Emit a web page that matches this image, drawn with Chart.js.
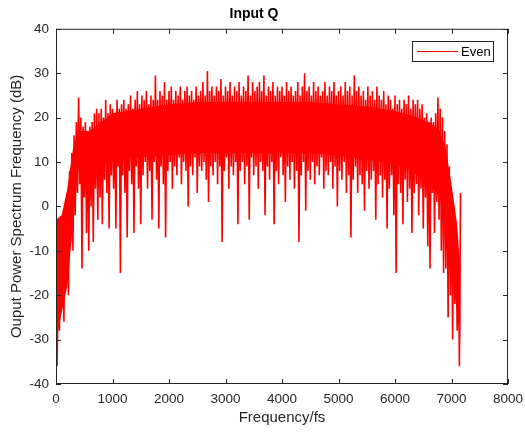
<!DOCTYPE html>
<html>
<head>
<meta charset="utf-8">
<script src="https://cdn.jsdelivr.net/npm/chart.js@4/dist/chart.umd.min.js"></script>
<style>
  html, body { margin: 0; padding: 0; background: #fff; }
  #wrap { width: 525px; height: 432px; }
</style>
</head>
<body>
<div id="wrap"><canvas id="psd"></canvas></div>
<script>
const seriesName = "Even";
const step = 40; // Hz between successive peak samples (dips sit half way)

// upper spikes, f = 0, 40, 80 ... 7160
const peaks = [
  3, -18, -12, -8, -2, 3, 8, 12, 16, 19,
  24.5, 20, 18, 19, 17, 18, 19, 21, 22, 21,
  22, 20, 24, 21, 23, 22, 21, 24, 22, 23,
  24, 22, 23, 25, 22, 24, 26, 23, 25, 24,
  26, 23, 25, 24, 29.5, 24, 26, 25, 28, 24,
  26, 27, 24, 26, 25, 27, 24, 26, 27, 25,
  26, 24, 27, 25, 26, 28, 25, 30.5, 26, 27,
  25, 27, 26, 28.7, 25, 27, 26, 28, 25, 27,
  26, 28, 25, 27, 26, 29.5, 25, 28, 26, 27,
  28, 26, 29.5, 25, 27, 26, 28, 25, 27, 26,
  27, 25, 28, 26, 27, 25, 26, 28, 25, 27,
  30, 26, 27, 25, 28, 26, 27, 25, 26, 28,
  25, 27, 26, 28, 25, 26, 27, 25, 28, 26,
  27, 25, 29.5, 26, 27, 25, 26, 24, 27, 25,
  26, 24, 27, 25, 24, 26, 23, 25, 24, 22,
  25, 23, 24, 22, 24, 23, 25, 22, 24, 23,
  24, 22, 23, 20, 21, 19, 20, 19, 21, 24.5,
  22, 20, 17, 14, 9, 3, 0, -4, -10, 3
];

// lower spikes, f = 20, 60, 100 ... 7140
const dips = [
  -36, -28, -22, -26, -12, -20, -8, -10, -2, 3,
  5, -14, 2, -6, -10, 0, -8, 4, -3, 2,
  -4, 6, 3, -5, 7, 4, -5, 9, -15, 7,
  3, -7, 8, 5, -6, 9, 4, -4, 7, 10,
  4, 8, -3, 10, 6, -5, 9, 5, -7, 8,
  10, 4, 9, 7, 11, 5, 10, 8, 0, 9,
  7, 11, 3, 9, 8, 10, 6, 1, 9, 7,
  10, 5, 9, -8, 8, 11, 4, 9, 7, 10,
  -4, 8, 10, 5, 9, -3, 11, 7, 9, 4,
  10, 8, -2, 9, 6, 10, -4, 8, 5, 11,
  7, 1, 9, 6, 10, 4, 8, -8, 7, 10,
  -1, 8, 6, 10, 5, 9, 7, 11, 4, 8,
  7, 10, 4, 9, 0, 8, 6, 10, 3, 7,
  -7, 6, 9, 3, 7, 5, -1, 8, 4, 6,
  8, -3, 5, 7, 2, 6, -5, 4, 7, -2,
  -15, 5, 3, -4, 6, 1, 4, -6, 3, 5,
  -2, 4, -5, 2, -9, -14, 3, -6, 1, -3,
  -10, -15, -14, -25, -20, -30, -22, -28, -36
];

// solid core of the trace (where the samples are too dense to tell apart)
const coreFreq = [0, 100, 200, 300, 400, 600, 800, 1000, 1500, 2000, 2500, 3000, 3500,
  4000, 4500, 5000, 5500, 6000, 6300, 6600, 6800, 6900, 7000, 7100, 7160];
const coreTop = [-3, -2, 4, 13, 17, 17, 19, 21, 22, 23, 23.5, 23.5, 23.5,
  23.5, 23.5, 23, 22.5, 21.5, 20.5, 19, 17, 13, 5, -4, -15];
const coreLow = [-30, -24, -18, -4, 9, 8, 9, 10.5, 11, 11.5, 12, 12, 12,
  12, 12, 11.5, 10.5, 9.5, 8, 5, 2, -4, -14, -24, -30];

const xTicks = [0, 1000, 2000, 3000, 4000, 5000, 6000, 7000, 8000];
const yTicks = [-40, -30, -20, -10, 0, 10, 20, 30, 40];

// interleave peaks and dips into one trace
const points = [];
peaks.forEach((p, i) => {
  points.push({ x: i * step, y: p });
  if (i < dips.length) points.push({ x: i * step + step / 2, y: dips[i] });
});

const axisColor = "#262626";
const lineRed = "#ff0000";
const fontFam = "'Liberation Sans', Arial, Helvetica, sans-serif";

// box around the axes plus inward tick marks, like the original figure
const boxPlugin = {
  id: "box",
  afterDraw(chart) {
    const { ctx, chartArea: a, scales } = chart;
    ctx.save();
    ctx.strokeStyle = axisColor;
    ctx.lineWidth = 1;
    ctx.strokeRect(a.left + 0.5, a.top + 0.5, a.right - a.left - 1, a.bottom - a.top - 1);
    ctx.beginPath();
    xTicks.forEach(t => {
      const x = Math.round(scales.x.getPixelForValue(t)) + 0.5;
      ctx.moveTo(x, a.bottom); ctx.lineTo(x, a.bottom - 5);
      ctx.moveTo(x, a.top); ctx.lineTo(x, a.top + 5);
    });
    yTicks.forEach(t => {
      const y = Math.round(scales.y.getPixelForValue(t)) + 0.5;
      ctx.moveTo(a.left, y); ctx.lineTo(a.left + 5, y);
      ctx.moveTo(a.right, y); ctx.lineTo(a.right - 5, y);
    });
    ctx.stroke();

    // legend box in the top right corner
    const bx = 412.5, by = 41.5, bw = 81, bh = 20;
    ctx.fillStyle = "#fff";
    ctx.fillRect(bx, by, bw, bh);
    ctx.strokeStyle = axisColor;
    ctx.strokeRect(bx, by, bw, bh);
    ctx.strokeStyle = lineRed;
    ctx.beginPath();
    ctx.moveTo(417, 51.5); ctx.lineTo(458, 51.5);
    ctx.stroke();
    ctx.fillStyle = "#000";
    ctx.font = "13px " + fontFam;
    ctx.textBaseline = "middle";
    ctx.fillText(seriesName, 461, 52);
    ctx.restore();
  }
};

new Chart(document.getElementById("psd"), {
  type: "line",
  data: {
    datasets: [
      {
        label: "core low",
        data: coreFreq.map((f, i) => ({ x: f, y: coreLow[i] })),
        borderWidth: 0,
        pointRadius: 0,
        fill: false
      },
      {
        label: "core top",
        data: coreFreq.map((f, i) => ({ x: f, y: coreTop[i] })),
        borderWidth: 0,
        pointRadius: 0,
        backgroundColor: lineRed,
        fill: "-1"
      },
      {
        label: seriesName,
        data: points,
        borderColor: lineRed,
        borderWidth: 1.6,
        pointRadius: 0,
        fill: false,
        tension: 0
      }
    ]
  },
  options: {
    responsive: true,
    maintainAspectRatio: false,
    animation: false,
    layout: { padding: { top: 2, right: 17, left: 0, bottom: 0 } },
    plugins: {
      legend: { display: false },
      tooltip: { enabled: false },
      title: {
        display: true,
        text: "Input Q",
        color: "#000",
        font: { family: fontFam, size: 14, weight: "bold" },
        padding: { top: 4, bottom: 6 }
      }
    },
    scales: {
      x: {
        type: "linear",
        min: 0, max: 8000,
        afterBuildTicks: s => { s.ticks = xTicks.map(v => ({ value: v })); },
        afterFit: s => { s.height = 48; s.paddingLeft = 0; s.paddingRight = 0; },
        grid: { display: false, drawTicks: false },
        border: { display: false },
        ticks: {
          color: axisColor, padding: 7, maxRotation: 0,
          font: { family: fontFam, size: 13.5 },
          callback: v => String(v)
        },
        title: {
          display: true,
          text: "Frequency/fs",
          color: axisColor,
          font: { family: fontFam, size: 15 },
          padding: { top: 0, bottom: 5 }
        }
      },
      y: {
        min: -40, max: 40,
        afterBuildTicks: s => { s.ticks = yTicks.map(v => ({ value: v })); },
        afterFit: s => { s.width = 56; s.paddingTop = 0; s.paddingBottom = 0; },
        grid: { display: false, drawTicks: false },
        border: { display: false },
        ticks: {
          color: axisColor, padding: 7,
          font: { family: fontFam, size: 13.5 },
          callback: v => String(v)
        },
        title: {
          display: true,
          text: "Ouput Power Spectrum Frequency (dB)",
          color: axisColor,
          font: { family: fontFam, size: 15 },
          padding: { top: 8, bottom: 0 }
        }
      }
    }
  },
  plugins: [boxPlugin]
});
</script>
</body>
</html>
